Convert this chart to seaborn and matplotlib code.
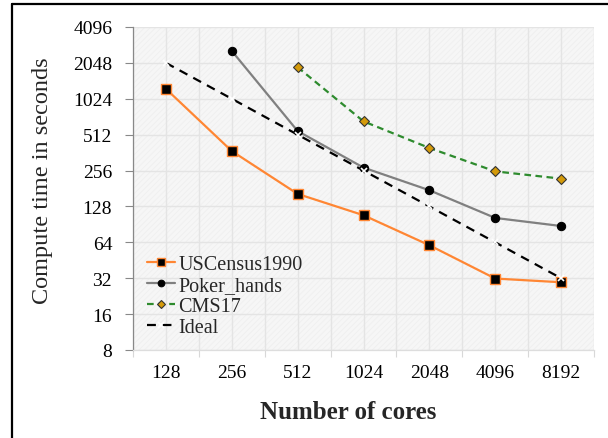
import numpy as np
import pandas as pd
import matplotlib
matplotlib.use("Agg")
import matplotlib.pyplot as plt
from matplotlib.lines import Line2D
from matplotlib.patches import Rectangle
from matplotlib.ticker import FixedLocator, NullFormatter
import seaborn as sns

# Core counts and compute times (seconds)
cores = ["128", "256", "512", "1024", "2048", "4096", "8192"]
uscensus = [1240, 373, 163, 108, 60.5, 31.8, 29.6]
poker = [np.nan, 2580, 549, 271, 175, 102.5, 87.7]
cms17 = [np.nan, np.nan, 1884, 662, 396, 252, 219]
ideal = [2048, 1024, 512, 256, 128, 64, 32]
y_ticks = [8, 16, 32, 64, 128, 256, 512, 1024, 2048, 4096]

sns.set_theme(style="white")
plt.rcParams["font.family"] = ["Liberation Serif", "DejaVu Serif"]
plt.rcParams["hatch.linewidth"] = 0.6

fig = plt.figure(figsize=(6.08, 4.39), dpi=100)
ax = fig.add_axes([133 / 608, 1 - 351 / 439, (594 - 133) / 608, (351 - 28) / 439])

# light textured plot area
ax.set_facecolor("#f6f6f6")
ax.add_patch(Rectangle((0, 0), 1, 1, transform=ax.transAxes, facecolor="none",
                       edgecolor="#efefef", hatch="//////", linewidth=0, zorder=0))

pos = np.arange(len(cores))
df = pd.DataFrame({"pos": pos, "USCensus1990": uscensus, "Poker_hands": poker,
                   "CMS17": cms17, "Ideal": ideal})

styles = {
    "USCensus1990": dict(color="#ff8633", marker="s", markersize=6.5, markerfacecolor="black",
                         markeredgecolor="#ff8633", markeredgewidth=1.0, linestyle="-", linewidth=1.6),
    "Poker_hands": dict(color="#808080", marker="o", markersize=6, markerfacecolor="black",
                        markeredgecolor="black", linestyle="-", linewidth=1.6),
    "CMS17": dict(color="#2e8b2e", marker="D", markersize=5, markerfacecolor="#d49a0a",
                  markeredgecolor="#333333", markeredgewidth=0.8, linestyle=(0, (3, 2)), linewidth=1.6),
    "Ideal": dict(color="black", marker="x", markersize=5, markeredgewidth=1.2,
                  linestyle=(0, (4, 3)), linewidth=1.6),
}

for name, st in styles.items():
    sub = df[["pos", name]].dropna()
    sns.lineplot(data=sub, x="pos", y=name, ax=ax, label=name, zorder=3, **st)

ax.set_yscale("log", base=2)
ax.set_ylim(8, 4096)
ax.set_xlim(-0.5, len(cores) - 0.5)

ax.yaxis.set_major_locator(FixedLocator(y_ticks))
ax.set_yticklabels([str(t) for t in y_ticks])
ax.yaxis.set_minor_locator(FixedLocator([]))
ax.set_xticks(pos)
ax.set_xticklabels(cores)
ax.xaxis.set_minor_locator(FixedLocator(np.arange(-0.5, len(cores), 1.0)))
ax.xaxis.set_minor_formatter(NullFormatter())

ax.tick_params(axis="x", which="major", length=0, pad=10, labelsize=14, labelcolor="black")
ax.tick_params(axis="x", which="minor", length=5, width=0.8, color="#d8d8d8", bottom=True)
ax.tick_params(axis="y", which="major", length=6, width=0.8, color="#888888", left=True,
               pad=9, labelsize=14, labelcolor="black")

# grid lines at category centres and boundaries, and at each power of two
ax.grid(True, which="major", axis="both", color="#e4e4e4", linewidth=1.0, zorder=1)
ax.grid(True, which="minor", axis="x", color="#e4e4e4", linewidth=1.0, zorder=1)
ax.set_axisbelow(True)

for s in ["top", "right"]:
    ax.spines[s].set_visible(False)
ax.spines["left"].set_color("#888888")
ax.spines["left"].set_linewidth(0.9)
ax.spines["bottom"].set_color("#dddddd")
ax.spines["bottom"].set_linewidth(0.9)

ax.set_xlabel("Number of cores", fontsize=18, fontweight="bold")
ax.set_ylabel("Compute time in seconds", fontsize=17.5)
ax.xaxis.set_label_coords((348 - 133) / 461, -(413 - 351) / 323, transform=ax.transAxes)
ax.yaxis.set_label_coords(-(133 - 43) / 461, (351 - 180.5) / 323, transform=ax.transAxes)
ax.xaxis.label.set_verticalalignment("center")
ax.yaxis.label.set_verticalalignment("center")

leg = ax.legend(loc="lower left", bbox_to_anchor=(0.015, 0.018), fontsize=14.5, frameon=True,
                fancybox=False, framealpha=0, edgecolor="#a6a6a6", handlelength=1.4,
                handletextpad=0.15, borderpad=0.35, labelspacing=0.1, borderaxespad=0,
                markerscale=0.8)
leg.get_frame().set_linewidth(1.0)

# outer frame of the figure
fig.add_artist(Line2D([12 / 608, 12 / 608], [1 - 5 / 439, -0.1], transform=fig.transFigure,
                      color="black", linewidth=1.6))
fig.add_artist(Line2D([12 / 608, 1.1], [1 - 5 / 439, 1 - 5 / 439], transform=fig.transFigure,
                      color="black", linewidth=1.6))

fig.savefig("out.png", dpi=100)
